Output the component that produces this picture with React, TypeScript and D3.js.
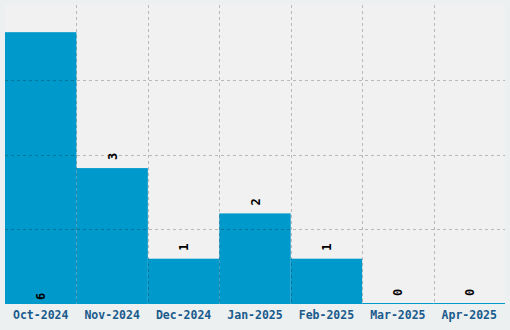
import React from "react";
import * as d3 from "d3";

const categories = ["Oct-2024", "Nov-2024", "Dec-2024", "Jan-2025", "Feb-2025", "Mar-2025", "Apr-2025"];
const values = [6, 3, 1, 2, 1, 0, 0];

const W = 510;
const H = 330;
const margin = { top: 5, right: 5, bottom: 26, left: 5 };
const FONT = "'DejaVu Sans Mono', 'Liberation Mono', monospace";

export default function App() {
  const iw = W - margin.left - margin.right;
  const ih = H - margin.top - margin.bottom;
  const x = d3.scaleBand<string>().domain(categories).range([0, iw]).padding(0);
  const maxV = d3.max(values) ?? 1;
  const y = d3.scaleLinear().domain([0, maxV * 1.1]).range([ih, 0]);
  const gridY = d3.range(1, 4).map((i) => (ih * i) / 4);
  const gridX = categories.slice(1).map((c) => x(c) ?? 0);

  return (
    <svg
      width={W}
      height={H}
      style={{ position: "absolute", left: 0, top: 0, display: "block", background: "#ecf0f1" }}
    >
      <g transform={`translate(${margin.left},${margin.top})`}>
        <rect x={0} y={0} width={iw} height={ih} fill="#f1f1f1" />
        {values.map((v, i) => {
          const c = categories[i];
          const bx = x(c) ?? 0;
          const top = y(v);
          const h = Math.max(ih - top, 1);
          return (
            <rect key={c} x={bx} y={ih - h} width={x.bandwidth()} height={h} fill="#0099cc" />
          );
        })}
        {gridY.map((gy, i) => (
          <line
            key={"gy" + i}
            x1={0}
            x2={iw}
            y1={Math.round(gy) + 0.5}
            y2={Math.round(gy) + 0.5}
            stroke="rgba(0,0,0,0.23)"
            strokeDasharray="3,3"
          />
        ))}
        {gridX.map((gx, i) => (
          <line
            key={"gx" + i}
            x1={Math.round(gx) + 0.5}
            x2={Math.round(gx) + 0.5}
            y1={0}
            y2={ih}
            stroke="rgba(0,0,0,0.23)"
            strokeDasharray="3,3"
          />
        ))}
        {values.map((v, i) => {
          const c = categories[i];
          const cx = (x(c) ?? 0) + x.bandwidth() / 2;
          const ly = v === maxV ? ih - 4 : y(v) - 8;
          return (
            <text
              key={"l" + c}
              transform={`translate(${cx + 4.5},${ly}) rotate(-90)`}
              fontFamily={FONT}
              fontWeight="bold"
              fontSize={12}
              fill="#000"
              textAnchor="start"
            >
              {v}
            </text>
          );
        })}
        {categories.map((c) => (
          <text
            key={"t" + c}
            x={(x(c) ?? 0) + x.bandwidth() / 2}
            y={ih + 15}
            fontFamily={FONT}
            fontWeight="bold"
            fontSize={11.5}
            fill="#1a5b8c"
            textAnchor="middle"
          >
            {c}
          </text>
        ))}
      </g>
    </svg>
  );
}
